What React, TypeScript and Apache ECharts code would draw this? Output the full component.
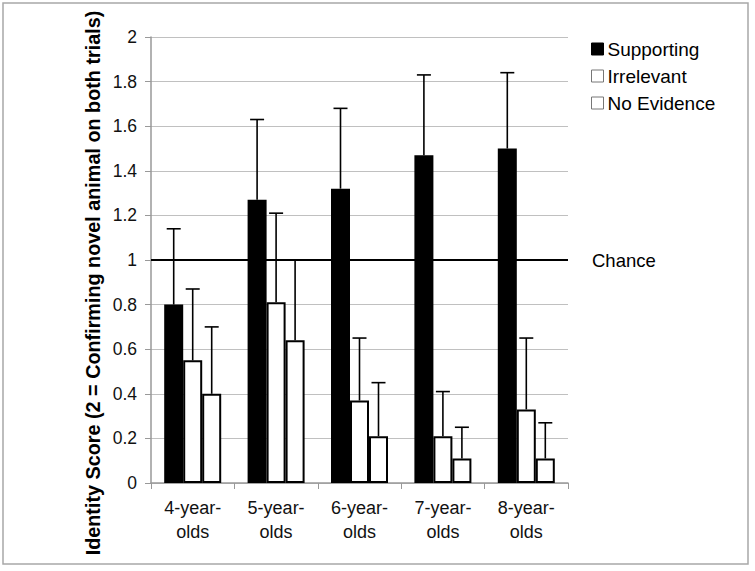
import React, { useEffect, useRef } from "react";
import * as echarts from "echarts";

const categories = ["4-year-\nolds", "5-year-\nolds", "6-year-\nolds", "7-year-\nolds", "8-year-\nolds"];
const seriesNames = ["Supporting", "Irrelevant", "No Evidence"];
const supporting = [0.8, 1.27, 1.32, 1.47, 1.5];
const irrelevant = [0.55, 0.81, 0.37, 0.21, 0.33];
const noEvidence = [0.4, 0.64, 0.21, 0.11, 0.11];
const supportingUpper = [1.14, 1.63, 1.68, 1.83, 1.84];
const irrelevantUpper = [0.87, 1.21, 0.65, 0.41, 0.65];
const noEvidenceUpper = [0.7, 1.0, 0.45, 0.25, 0.27];
const chanceValue = 1;
const chanceLabel = "Chance";
const yTitle = "Identity Score (2 = Confirming novel animal on both trials)";

const FONT = "'Liberation Sans', Arial, sans-serif";
const BAR_W = 19;

export default function App() {
  const ref = useRef<HTMLDivElement>(null);
  useEffect(() => {
    if (!ref.current) return;
    const chart = echarts.init(ref.current, undefined, { renderer: "svg" });
    const values = [supporting, irrelevant, noEvidence];
    const uppers = [supportingUpper, irrelevantUpper, noEvidenceUpper];
    const fills = ["#000000", "#ffffff", "#ffffff"];

    const barSeries: any[] = values.map((v, i) => ({
      type: "bar",
      name: seriesNames[i],
      data: v,
      barWidth: BAR_W,
      barGap: "0%",
      itemStyle: { color: fills[i], borderColor: "#000", borderWidth: 2 },
      z: 2,
      ...(i === 0
        ? {
            markLine: {
              symbol: "none",
              silent: true,
              lineStyle: { color: "#000", width: 2, type: "solid" },
              label: {
                show: true,
                position: "end",
                formatter: chanceLabel,
                distance: 24,
                fontFamily: FONT,
                fontSize: 18.5,
                color: "#000",
              },
              data: [{ yAxis: chanceValue }],
              z: 5,
            },
          }
        : {}),
    }));

    const errSeries: any[] = values.map((v, i) => ({
      type: "custom",
      name: seriesNames[i] + " err",
      data: v.map((val, j) => [j, val, uppers[i][j]]),
      z: 4,
      renderItem: (params: any, api: any) => {
        const x = api.value(0);
        const lo = api.coord([x, api.value(1)]);
        const hi = api.coord([x, api.value(2)]);
        const cx = lo[0] + (i - 1) * BAR_W;
        const half = 7;
        return {
          type: "group",
          children: [
            { type: "line", shape: { x1: cx, y1: lo[1], x2: cx, y2: hi[1] }, style: { stroke: "#000", lineWidth: 1.6 } },
            { type: "line", shape: { x1: cx - half, y1: hi[1], x2: cx + half, y2: hi[1] }, style: { stroke: "#000", lineWidth: 1.6 } },
          ],
        };
      },
    }));

    chart.setOption({
      animation: false,
      grid: { left: 151, top: 37, right: 187, bottom: 88, containLabel: false },
      legend: {
        data: seriesNames.map((n, i) => ({
          name: n,
          icon: "rect",
          itemStyle: { color: fills[i], borderColor: i === 0 ? "#000" : "#777", borderWidth: 1 },
        })),
        orient: "vertical",
        left: 586,
        top: 33,
        itemWidth: 12,
        itemHeight: 12,
        itemGap: 5,
        textStyle: { fontFamily: FONT, fontSize: 19, lineHeight: 22, color: "#000", padding: [0, 0, 0, -1] },
      },
      xAxis: {
        type: "category",
        data: categories,
        axisLine: { lineStyle: { color: "#999", width: 1.5 } },
        axisTick: { show: true, length: 6, lineStyle: { color: "#999" } },
        axisLabel: { fontFamily: FONT, fontSize: 18, color: "#111", margin: 13, lineHeight: 24 },
      },
      yAxis: {
        type: "value",
        min: 0,
        max: 2,
        interval: 0.2,
        axisLine: { show: true, lineStyle: { color: "#999", width: 1.5 } },
        axisTick: { show: true, length: 6, lineStyle: { color: "#999" } },
        axisLabel: { fontFamily: FONT, fontSize: 17.5, color: "#111", margin: 14 },
        splitLine: { lineStyle: { color: "#c0c0c0", width: 1 } },
      },
      graphic: [
        {
          type: "rect",
          shape: { x: 3, y: 3, width: 745, height: 561 },
          style: { fill: "none", stroke: "#a8a8a8", lineWidth: 1.5 },
          silent: true,
        },
        {
          type: "text",
          x: 93,
          y: 283,
          rotation: Math.PI / 2,
          style: {
            text: yTitle,
            fontFamily: FONT,
            fontSize: 19.8,
            fontWeight: "bold",
            fill: "#000",
            align: "center",
            verticalAlign: "middle",
          },
        },
      ],
      series: [...barSeries, ...errSeries],
    });
    return () => chart.dispose();
  }, []);
  return <div ref={ref} style={{ position: "fixed", left: 0, top: 0, width: 755, height: 571, background: "#fff" }} />;
}
